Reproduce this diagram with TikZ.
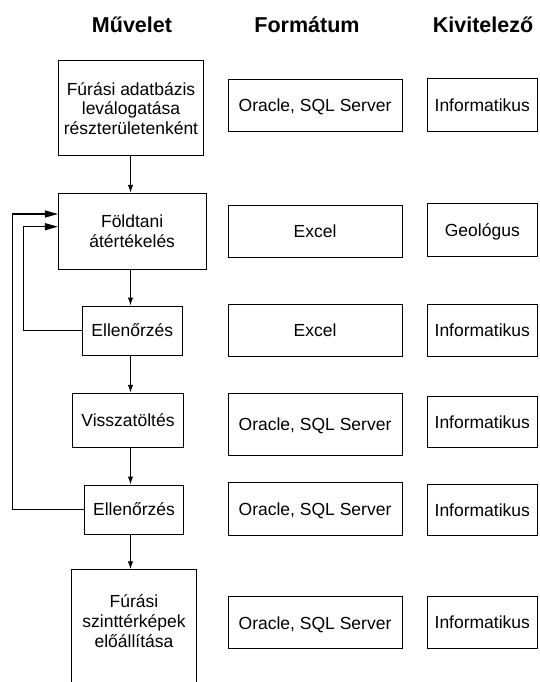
\documentclass[tikz,border=0pt]{standalone}
\usepackage{fontspec}
\setmainfont{Liberation Sans}
\usetikzlibrary{arrows.meta,positioning,calc}
\begin{document}
\begin{tikzpicture}[x=1pt,y=-1pt,
  every node/.style={inner sep=0pt},
  hdr/.style={font=\fontsize{21.5}{24}\selectfont\bfseries, anchor=base},
  box/.style={draw, line width=1pt, align=center, font=\fontsize{17.5}{19.5}\selectfont},
  one/.style={text height=12.6pt, text depth=0pt},
  txt/.style={align=center, font=\fontsize{17.5}{20}\selectfont},
  vflow/.style={line width=1.2pt, -{Latex[length=8pt,width=5.5pt]}},
  fb/.style={line width=1.2pt, -{Triangle[length=13pt,width=7pt]}}
]
\useasboundingbox (0,0) rectangle (539,682);
\clip (0,0) rectangle (539,682);

% headers
\node[hdr] (h1) at (132,32.7) {Művelet};
\node[hdr] (h2) at (307,32.7) {Formátum};
\node[hdr] (h3) at (483,32.7) {Kivitelező};

% process boxes
\node[box, minimum width=145, minimum height=94.7] (b1) at (131,108.3) {Fúrási adatbázis\\leválogatása\\részterületenként};
\node[box, minimum width=147.6, minimum height=75.7] (b2) at (132.2,231.2) {Földtani\\átértékelés};
\node[box, one, minimum width=99.5, minimum height=49] (e1) at (132.3,330.5) {Ellenőrzés};
\node[box, one, minimum width=111.7, minimum height=54] (v) at (128,420.3) {Visszatöltés};
\node[box, one, minimum width=99.7, minimum height=49] (e2) at (134,509.5) {Ellenőrzés};
\node[box, minimum width=124.5, minimum height=140, anchor=north] (b6) at (134,569.3) {};
\node[txt] (b6t) at (134,621) {Fúrási\\szinttérképek\\előállítása};

% format boxes
\node[box, one, minimum width=174, minimum height=52.4] (f1) at (315,105.5) {Oracle, SQL Server};
\node[box, one, minimum width=174, minimum height=52.3] (f2) at (315,231.2) {Excel};
\node[box, one, minimum width=174, minimum height=52.4] (f3) at (315,330.5) {Excel};
\node[box, one, minimum width=174, minimum height=61.7] (f4) at (315,424.2) {Oracle, SQL Server};
\node[box, one, minimum width=174, minimum height=53] (f5) at (315,509.2) {Oracle, SQL Server};
\node[box, one, minimum width=174, minimum height=52.3] (f6) at (315,622.8) {Oracle, SQL Server};

% performer boxes
\node[box, one, minimum width=110.5, minimum height=53.4] (k1) at (482.3,105) {Informatikus};
\node[box, one, minimum width=110.5, minimum height=52.7] (k2) at (482.3,230.3) {Geológus};
\node[box, one, minimum width=110.5, minimum height=52.4] (k3) at (482.3,330.5) {Informatikus};
\node[box, one, minimum width=110.5, minimum height=51.3] (k4) at (482.3,421.7) {Informatikus};
\node[box, one, minimum width=110.5, minimum height=51.4] (k5) at (482.3,510) {Informatikus};
\node[box, one, minimum width=110.5, minimum height=52.3] (k6) at (482.3,622.2) {Informatikus};

% vertical flow
\coordinate (ax) at (130.5,0);
\draw[vflow] (b1.south -| ax) -- (b2.north -| ax);
\draw[vflow] (b2.south -| ax) -- (e1.north -| ax);
\draw[vflow] (e1.south -| ax) -- (v.north -| ax);
\draw[vflow] (v.south -| ax) -- (e2.north -| ax);
\draw[vflow] (e2.south -| ax) -- (b6.north -| ax);

% feedback loops
\coordinate (xo) at (12.7,0);
\coordinate (xi) at (23.3,0);
\coordinate (in1) at ([yshift=17.2pt]b2.west);
\coordinate (in2) at ([yshift=4.5pt]b2.west);
\draw[fb] (e2.west) -| (xo |- in1) -- (in1);
\draw[fb] (e1.west) -| (xi |- in2) -- (in2);
\end{tikzpicture}
\end{document}
